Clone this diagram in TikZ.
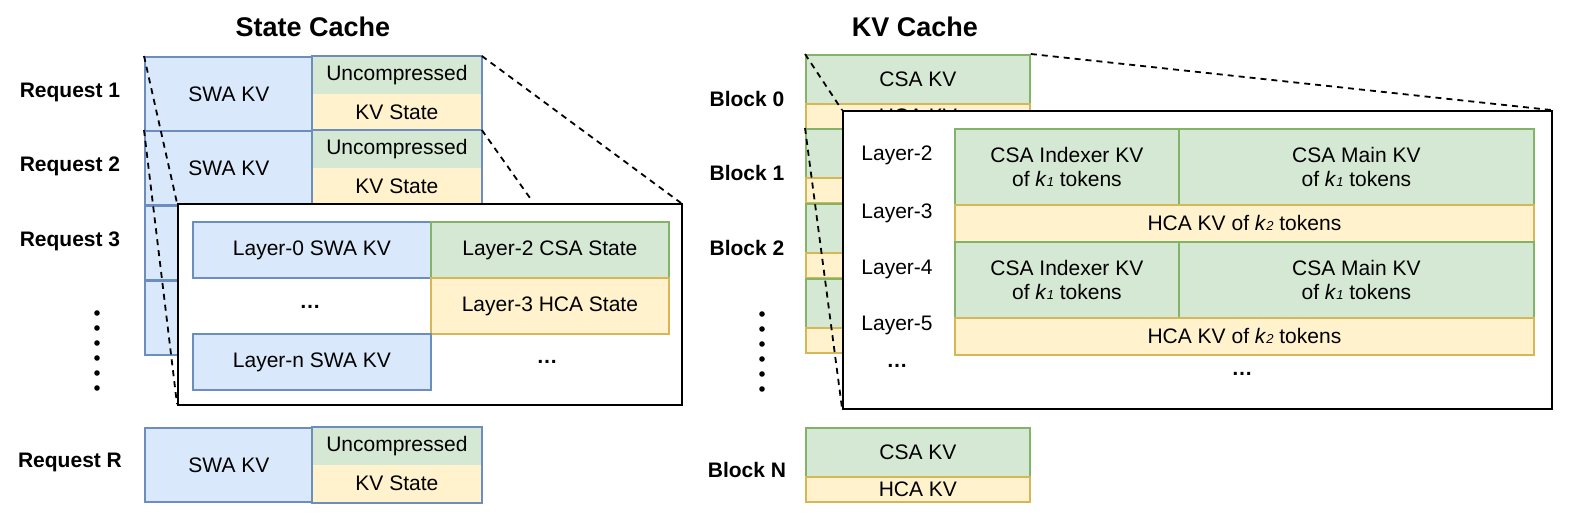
\documentclass[tikz,border=0pt]{standalone}
\usepackage{fontspec}
\setmainfont{Liberation Sans}
\usetikzlibrary{positioning}
\definecolor{swafill}{HTML}{DAE8FC}\definecolor{swaline}{HTML}{6C8EBF}
\definecolor{csafill}{HTML}{D5E8D4}\definecolor{csaline}{HTML}{82B366}
\definecolor{hcafill}{HTML}{FFF2CC}\definecolor{hcaline}{HTML}{D6B656}
\tikzset{
        cell/.style={rectangle, anchor=north west, inner sep=0pt, align=center, font=\fontsize{21}{24}\selectfont, line width=1.8pt},
        swa/.style={cell, draw=swaline, fill=swafill},
        csa/.style={cell, draw=csaline, fill=csafill},
        hca/.style={cell, draw=hcaline, fill=hcafill},
        unc/.style={cell, fill=csafill},
        kvs/.style={cell, fill=hcafill},
        rowlabel/.style={font=\bfseries\fontsize{21}{24}\selectfont},
        title/.style={font=\bfseries\fontsize{27}{30}\selectfont},
        plain/.style={font=\fontsize{21}{24}\selectfont},
        zoomline/.style={line width=1.8pt, dash pattern=on 6pt off 5pt},
        inset/.style={draw, fill=white, line width=2.4pt, anchor=north west, inner sep=0pt},
    }
\begin{document}
\begin{tikzpicture}[x=1pt, y=-1pt]
    \useasboundingbox (0,0) rectangle (1570,519);
    \node[title] (stitle) at (313,27) {State Cache};
    \node[title] (ktitle) at (915,27) {KV Cache};

    % state cache rows
    \foreach \i/\y/\t/\u/\k in {1/56/SWA KV/Uncompressed/KV State, 2/130/SWA KV/Uncompressed/KV State, 3/205///, 4/280///, 5/427/SWA KV/Uncompressed/KV State} {
        \node[swa, minimum width=168pt, minimum height=74pt] (swa\i) at (144,\y) {\t};
        \node[unc, minimum width=168pt, minimum height=37pt] (unc\i) at (312,\y) {\u};
        \node[kvs, minimum width=168pt, minimum height=37pt] (kvs\i) at (312,\y+37) {\k};
        \draw[swaline, line width=1.8pt] (unc\i.north west) rectangle (kvs\i.south east);
    }
    \node[rowlabel] (req1) at (70,92) {Request 1};
    \node[rowlabel] (req2) at (70,166) {Request 2};
    \node[rowlabel] (req3) at (70,241) {Request 3};
    \node[rowlabel] (reqR) at (70,462) {Request R};
    \foreach \d in {0,...,5} \fill (97,313+\d*15) circle (2.8pt);

    \coordinate (sboxtl) at (177,203);
    \coordinate (sboxbl) at (177,404);
    \coordinate (sboxtr) at (681,203);
    \coordinate (sboxmid) at (530,198);
    \draw[zoomline] (swa1.north west) -- (sboxtl);
    \draw[zoomline] (swa2.north west) -- (sboxbl);
    \draw[zoomline] (kvs1.south east |- swa1.north) -- (sboxtr);
    \draw[zoomline] (kvs2.south east |- swa2.north) -- (sboxmid);

    % state cache inset
    \node[inset, minimum width=504pt, minimum height=201pt] (sinset) at (sboxtl) {};
    \node[swa, minimum width=238pt, minimum height=56pt] (l0swa) at (192,221) {Layer-0 SWA KV};
    \node[csa, minimum width=238pt, minimum height=56pt] (l2csa) at (430,221) {Layer-2 CSA State};
    \node[hca, minimum width=238pt, minimum height=56pt] (l3hca) at (430,277) {Layer-3 HCA State};
    \node[swa, minimum width=238pt, minimum height=56pt] (lnswa) at (192,333) {Layer-n SWA KV};
    \node[plain] (sdots1) at (310,307) {\textbf{\dots}};
    \node[plain] (sdots2) at (547,362) {\textbf{\dots}};

    % kv cache blocks
    \foreach \i/\y/\c/\h in {0/54/CSA KV/HCA KV, 1/128//, 2/203//, 3/278//, 9/427/CSA KV/HCA KV} {
        \node[csa, minimum width=224pt, minimum height=49pt] (csa\i) at (805,\y) {\c};
        \node[hca, minimum width=224pt, minimum height=25pt] (hca\i) at (805,\y+49) {\h};
    }
    \node[rowlabel] (blk0) at (747,99) {Block 0};
    \node[rowlabel] (blk1) at (747,173) {Block 1};
    \node[rowlabel] (blk2) at (747,248) {Block 2};
    \node[rowlabel] (blkN) at (747,470) {Block N};
    \foreach \d in {0,...,5} \fill (762,314+\d*15) circle (2.8pt);

    \coordinate (kboxtl) at (842,110);
    \coordinate (kboxbl) at (842,408);
    \coordinate (kboxtr) at (1551,110);
    \draw[zoomline] (csa0.north west) -- (kboxtl);
    \draw[zoomline] (csa1.north west) -- (kboxbl);
    \draw[zoomline] (csa0.north east) -- (kboxtr);

    % kv cache inset
    \node[inset, minimum width=709pt, minimum height=298pt] (kinset) at (kboxtl) {};
    \foreach \j/\y in {a/128, b/241} {
        \node[csa, minimum width=224pt, minimum height=76pt] (idx\j) at (954,\y) {CSA Indexer KV\\of \textit{k}{\fontsize{13}{14}\selectfont\textit{1}} tokens};
        \node[csa, minimum width=355pt, minimum height=76pt] (main\j) at (1178,\y) {CSA Main KV\\of \textit{k}{\fontsize{13}{14}\selectfont\textit{1}} tokens};
        \node[hca, minimum width=579pt, minimum height=37pt] (hkv\j) at (954,\y+76) {HCA KV of \textit{k}{\fontsize{13}{14}\selectfont\textit{2}} tokens};
    }
    \node[plain] (lay2) at (897,155) {Layer-2};
    \node[plain] (lay3) at (897,213) {Layer-3};
    \node[plain] (lay4) at (897,269) {Layer-4};
    \node[plain] (lay5) at (897,325) {Layer-5};
    \node[plain] (kdots1) at (897,366) {\textbf{\dots}};
    \node[plain] (kdots2) at (1242,374) {\textbf{\dots}};
\end{tikzpicture}
\end{document}
